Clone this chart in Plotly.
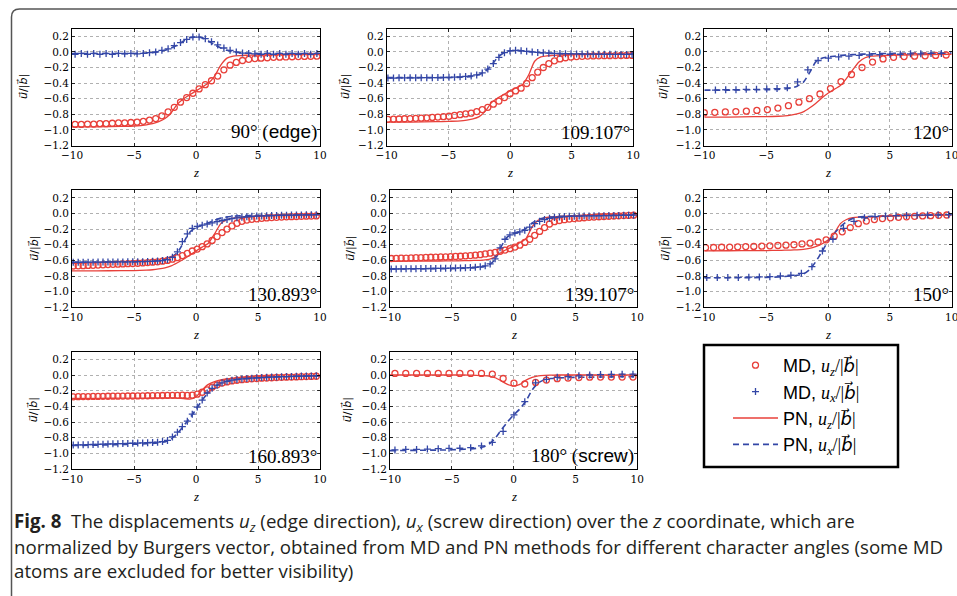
import numpy as np
import plotly.graph_objects as go

# ---------------------------------------------------------------- data
ANGLE_LABELS = ["90° (edge)", "109.107°", "120°", "130.893°",
                "139.107°", "150°", "160.893°", "180° (screw)"]

# z grid of the PN solutions (shared by all panels)
Z_PN = [-10, -8, -6, -5, -4, -3.5, -3, -2.5, -2, -1.5, -1, -0.5, 0, 0.5, 1,
        1.5, 2, 2.5, 3, 3.5, 4, 5, 6, 8, 10]

PN_UZ_090 = [-0.96, -0.96, -0.955, -0.95, -0.935, -0.92, -0.895, -0.855, -0.78, -0.67, -0.6, -0.55, -0.5,
             -0.45, -0.4, -0.31, -0.17, -0.08, -0.055, -0.047, -0.043, -0.04, -0.038, -0.035, -0.035]
PN_UX_090 = [-0.02, -0.02, -0.02, -0.02, -0.015, -0.01, 0.0, 0.02, 0.05, 0.09, 0.14, 0.18, 0.19,
             0.18, 0.14, 0.09, 0.05, 0.02, 0.0, -0.01, -0.015, -0.02, -0.02, -0.02, -0.02]
PN_UZ_109 = [-0.9, -0.9, -0.895, -0.89, -0.885, -0.875, -0.86, -0.83, -0.76, -0.65, -0.59, -0.545, -0.5,
             -0.46, -0.42, -0.3, -0.12, -0.065, -0.05, -0.045, -0.04, -0.035, -0.035, -0.03, -0.03]
PN_UX_109 = [-0.33, -0.33, -0.33, -0.33, -0.325, -0.32, -0.31, -0.29, -0.25, -0.17, -0.07, -0.01, 0.015,
             0.02, 0.015, 0.005, -0.005, -0.01, -0.015, -0.02, -0.02, -0.025, -0.025, -0.025, -0.025]
PN_UZ_120 = [-0.835, -0.835, -0.83, -0.83, -0.825, -0.82, -0.81, -0.795, -0.77, -0.72, -0.66, -0.59, -0.53,
             -0.48, -0.43, -0.34, -0.23, -0.13, -0.075, -0.055, -0.05, -0.045, -0.04, -0.035, -0.03]
PN_UX_120 = [-0.49, -0.49, -0.485, -0.485, -0.48, -0.475, -0.465, -0.44, -0.39, -0.27, -0.13, -0.08, -0.065,
             -0.055, -0.045, -0.04, -0.035, -0.03, -0.028, -0.025, -0.022, -0.02, -0.018, -0.015, -0.015]
PN_UZ_131 = [-0.735, -0.735, -0.73, -0.73, -0.725, -0.72, -0.71, -0.695, -0.67, -0.63, -0.585, -0.535, -0.48,
             -0.43, -0.38, -0.26, -0.13, -0.08, -0.06, -0.05, -0.042, -0.035, -0.03, -0.025, -0.02]
PN_UX_131 = [-0.625, -0.625, -0.62, -0.62, -0.615, -0.61, -0.6, -0.585, -0.56, -0.5, -0.37, -0.24, -0.18,
             -0.15, -0.12, -0.085, -0.06, -0.045, -0.035, -0.03, -0.028, -0.025, -0.02, -0.015, -0.01]
PN_UZ_139 = [-0.612, -0.61, -0.608, -0.606, -0.604, -0.602, -0.6, -0.596, -0.588, -0.555, -0.5, -0.455, -0.417,
             -0.375, -0.32, -0.17, -0.085, -0.055, -0.045, -0.04, -0.035, -0.03, -0.025, -0.02, -0.015]
PN_UX_139 = [-0.71, -0.71, -0.705, -0.705, -0.7, -0.697, -0.692, -0.682, -0.66, -0.59, -0.42, -0.3, -0.26,
             -0.235, -0.19, -0.12, -0.075, -0.055, -0.045, -0.04, -0.035, -0.03, -0.025, -0.02, -0.015]
PN_UZ_150 = [-0.478, -0.477, -0.475, -0.474, -0.472, -0.47, -0.468, -0.465, -0.46, -0.448, -0.425, -0.39, -0.34,
             -0.255, -0.13, -0.077, -0.055, -0.048, -0.045, -0.042, -0.04, -0.035, -0.03, -0.025, -0.02]
PN_UX_150 = [-0.822, -0.822, -0.82, -0.818, -0.812, -0.806, -0.798, -0.79, -0.775, -0.72, -0.62, -0.49, -0.36,
             -0.255, -0.17, -0.105, -0.065, -0.045, -0.04, -0.037, -0.034, -0.03, -0.025, -0.02, -0.015]
PN_UZ_161 = [-0.3, -0.298, -0.296, -0.295, -0.294, -0.293, -0.292, -0.291, -0.292, -0.295, -0.3, -0.308, -0.28,
             -0.19, -0.12, -0.085, -0.062, -0.05, -0.042, -0.036, -0.032, -0.025, -0.02, -0.015, -0.01]
PN_UX_161 = [-0.9, -0.895, -0.888, -0.884, -0.878, -0.873, -0.865, -0.852, -0.815, -0.745, -0.65, -0.55, -0.44,
             -0.32, -0.22, -0.15, -0.105, -0.08, -0.064, -0.055, -0.048, -0.035, -0.028, -0.018, -0.01]
PN_UZ_180 = [0.0, 0.0, 0.0, 0.0, 0.0, -0.002, -0.004, -0.008, -0.015, -0.035, -0.075, -0.12, -0.14,
             -0.12, -0.065, -0.03, -0.012, -0.005, -0.002, 0.0, 0.0, 0.0, 0.0, 0.0, 0.0]
PN_UX_180 = [-0.966, -0.962, -0.958, -0.955, -0.948, -0.943, -0.936, -0.92, -0.885, -0.81, -0.7, -0.6, -0.51,
             -0.434, -0.33, -0.19, -0.1, -0.06, -0.045, -0.04, -0.035, -0.03, -0.028, -0.024, -0.02]

# MD atoms: first z position and spacing of the (regularly spaced) atoms per panel
MD_UZ_START = [-9.75, -9.9, -10.0, -9.9, -9.9, -9.9, -9.9, -9.6]
MD_UZ_STEP = [0.5, 0.45, 0.85, 0.4, 0.4, 0.65, 0.4, 0.875]
MD_UX_START = [-9.75, -9.9, -9.1, -9.9, -9.9, -9.8, -9.9, -9.6]
MD_UX_STEP = [0.5, 0.45, 0.83, 0.4, 0.4, 0.85, 0.4, 0.875]

MD_UZ_090 = [-0.93, -0.93, -0.925, -0.925, -0.92, -0.92, -0.915, -0.91, -0.91, -0.905, -0.9, -0.89, -0.875,
             -0.855, -0.82, -0.77, -0.71, -0.645, -0.585, -0.53, -0.475, -0.42, -0.37, -0.31, -0.23, -0.17,
             -0.135, -0.11, -0.095, -0.085, -0.08, -0.075, -0.07, -0.068, -0.065, -0.062, -0.06, -0.058,
             -0.056, -0.055]
MD_UX_090 = [-0.03, -0.02, -0.03, -0.02, -0.03, -0.02, -0.03, -0.02, -0.025, -0.02, -0.025, -0.02, -0.01,
             0.0, 0.02, 0.04, 0.08, 0.12, 0.16, 0.19, 0.19, 0.17, 0.13, 0.09, 0.05, 0.02, 0.0, -0.015,
             -0.02, -0.025, -0.03, -0.02, -0.03, -0.02, -0.03, -0.02, -0.03, -0.02, -0.03, -0.02]
MD_UZ_109 = [-0.865, -0.862, -0.86, -0.857, -0.855, -0.852, -0.85, -0.845, -0.84, -0.835, -0.83, -0.825,
             -0.815, -0.805, -0.795, -0.785, -0.765, -0.74, -0.71, -0.67, -0.63, -0.585, -0.535, -0.5, -0.465,
             -0.405, -0.33, -0.26, -0.2, -0.15, -0.115, -0.09, -0.075, -0.066, -0.06, -0.057, -0.054,
             -0.052, -0.05, -0.049, -0.048, -0.047, -0.046, -0.045, -0.045]
MD_UX_109 = [-0.335, -0.335, -0.333, -0.333, -0.332, -0.332, -0.331, -0.33, -0.33, -0.329, -0.328, -0.326,
             -0.324, -0.32, -0.315, -0.308, -0.295, -0.27, -0.22, -0.15, -0.07, -0.01, 0.012, 0.02, 0.015,
             0.008, 0.0, -0.007, -0.012, -0.016, -0.019, -0.021, -0.023, -0.025, -0.026, -0.027, -0.028,
             -0.029, -0.03, -0.03, -0.031, -0.031, -0.032, -0.032, -0.033]
MD_UZ_120 = [-0.78, -0.775, -0.77, -0.765, -0.76, -0.75, -0.74, -0.72, -0.69, -0.645, -0.6, -0.54, -0.47,
             -0.38, -0.29, -0.2, -0.13, -0.09, -0.07, -0.06, -0.055, -0.05, -0.045, -0.04]
MD_UX_120 = [-0.49, -0.485, -0.485, -0.48, -0.48, -0.475, -0.47, -0.46, -0.385, -0.23, -0.11, -0.08,
             -0.065, -0.055, -0.045, -0.04, -0.035, -0.03, -0.03, -0.025, -0.025, -0.02, -0.02]
MD_UZ_131 = [-0.672, -0.67, -0.668, -0.665, -0.663, -0.66, -0.657, -0.654, -0.651, -0.648, -0.645, -0.642,
             -0.64, -0.637, -0.633, -0.628, -0.623, -0.618, -0.61, -0.6, -0.585, -0.565, -0.54, -0.51, -0.48,
             -0.455, -0.425, -0.39, -0.345, -0.295, -0.245, -0.2, -0.16, -0.125, -0.1, -0.085, -0.075,
             -0.068, -0.062, -0.057, -0.053, -0.049, -0.046, -0.043, -0.041, -0.039, -0.037, -0.035,
             -0.033, -0.032]
MD_UX_131 = [-0.625, -0.624, -0.624, -0.623, -0.623, -0.622, -0.622, -0.621, -0.621, -0.62, -0.62, -0.619,
             -0.618, -0.617, -0.616, -0.614, -0.612, -0.608, -0.602, -0.59, -0.56, -0.49, -0.36, -0.26,
             -0.19, -0.165, -0.15, -0.135, -0.12, -0.105, -0.09, -0.077, -0.065, -0.056, -0.048, -0.042,
             -0.037, -0.033, -0.031, -0.029, -0.027, -0.025, -0.023, -0.022, -0.021, -0.02, -0.019, -0.018,
             -0.017, -0.016]
MD_UZ_139 = [-0.576, -0.574, -0.572, -0.57, -0.568, -0.566, -0.564, -0.562, -0.56, -0.558, -0.556, -0.554,
             -0.552, -0.55, -0.547, -0.543, -0.538, -0.533, -0.527, -0.518, -0.508, -0.497, -0.484, -0.468,
             -0.45, -0.43, -0.405, -0.37, -0.33, -0.28, -0.23, -0.18, -0.135, -0.105, -0.09, -0.08, -0.072,
             -0.065, -0.06, -0.055, -0.05, -0.046, -0.042, -0.039, -0.036, -0.033, -0.03, -0.027, -0.025,
             -0.022]
MD_UX_139 = [-0.71, -0.71, -0.708, -0.708, -0.706, -0.706, -0.705, -0.705, -0.704, -0.703, -0.702, -0.701,
             -0.7, -0.699, -0.697, -0.695, -0.692, -0.688, -0.682, -0.67, -0.645, -0.58, -0.44, -0.33,
             -0.275, -0.25, -0.235, -0.215, -0.175, -0.13, -0.1, -0.078, -0.062, -0.052, -0.045, -0.04,
             -0.037, -0.035, -0.033, -0.032, -0.031, -0.03, -0.029, -0.028, -0.027, -0.026, -0.025, -0.024,
             -0.023, -0.022]
MD_UZ_150 = [-0.438, -0.435, -0.432, -0.43, -0.427, -0.424, -0.421, -0.418, -0.414, -0.41, -0.405, -0.4,
             -0.39, -0.38, -0.365, -0.337, -0.29, -0.235, -0.18, -0.13, -0.097, -0.078, -0.066, -0.056,
             -0.049, -0.043, -0.037, -0.032, -0.028, -0.024, -0.02]
MD_UX_150 = [-0.82, -0.82, -0.82, -0.818, -0.815, -0.812, -0.808, -0.8, -0.79, -0.765, -0.68, -0.48, -0.33,
             -0.19, -0.1, -0.055, -0.04, -0.033, -0.028, -0.025, -0.022, -0.02, -0.018, -0.015]
MD_UZ_161 = [-0.278, -0.277, -0.276, -0.275, -0.274, -0.273, -0.272, -0.271, -0.27, -0.27, -0.269, -0.268,
             -0.268, -0.267, -0.266, -0.265, -0.264, -0.263, -0.262, -0.261, -0.26, -0.259, -0.258, -0.26,
             -0.258, -0.245, -0.22, -0.19, -0.155, -0.125, -0.103, -0.088, -0.076, -0.067, -0.06, -0.054,
             -0.049, -0.045, -0.041, -0.038, -0.035, -0.032, -0.03, -0.028, -0.026, -0.024, -0.022, -0.02,
             -0.018, -0.016]
MD_UX_161 = [-0.895, -0.893, -0.891, -0.889, -0.887, -0.885, -0.883, -0.881, -0.879, -0.877, -0.875, -0.873,
             -0.871, -0.869, -0.867, -0.865, -0.862, -0.858, -0.85, -0.835, -0.79, -0.73, -0.66, -0.59,
             -0.5, -0.41, -0.32, -0.23, -0.17, -0.13, -0.1, -0.08, -0.066, -0.057, -0.05, -0.045, -0.04,
             -0.036, -0.033, -0.03, -0.027, -0.025, -0.022, -0.02, -0.018, -0.016, -0.014, -0.013, -0.012,
             -0.011]
MD_UZ_180 = [0.02, 0.02, 0.02, 0.02, 0.02, 0.02, 0.02, 0.02, 0.02, 0.01, -0.045, -0.105, -0.115, -0.095,
             -0.065, -0.047, -0.038, -0.032, -0.028, -0.026, -0.026, -0.026, -0.026]
MD_UX_180 = [-0.957, -0.95, -0.95, -0.945, -0.94, -0.936, -0.935, -0.928, -0.906, -0.86, -0.72, -0.51,
             -0.34, -0.1, -0.055, -0.03, -0.02, -0.01, 0.0, 0.005, 0.008, 0.01, 0.01]

PN_UZ = [PN_UZ_090, PN_UZ_109, PN_UZ_120, PN_UZ_131, PN_UZ_139, PN_UZ_150, PN_UZ_161, PN_UZ_180]
PN_UX = [PN_UX_090, PN_UX_109, PN_UX_120, PN_UX_131, PN_UX_139, PN_UX_150, PN_UX_161, PN_UX_180]
MD_UZ = [MD_UZ_090, MD_UZ_109, MD_UZ_120, MD_UZ_131, MD_UZ_139, MD_UZ_150, MD_UZ_161, MD_UZ_180]
MD_UX = [MD_UX_090, MD_UX_109, MD_UX_120, MD_UX_131, MD_UX_139, MD_UX_150, MD_UX_161, MD_UX_180]

X_TICKS = [-10, -5, 0, 5, 10]
Y_TICKS = [-1.2, -1.0, -0.8, -0.6, -0.4, -0.2, 0.0, 0.2]

LEGEND_NAMES = ["MD, ", "MD, ", "PN, ", "PN, "]
CAPTION = [
    "<b>Fig. 8</b>  The displacements <i>u<sub>z</sub></i> (edge direction), <i>u<sub>x</sub></i> "
    "(screw direction) over the <i>z</i> coordinate, which are",
    "normalized by Burgers vector, obtained from MD and PN methods for different character angles (some MD",
    "atoms are excluded for better visibility)",
]

# ---------------------------------------------------------------- layout (pixels)
W, H = 957, 596
# plot-area boxes: x0, x1, y0(top), y1(bottom)
BOXES = [
    (72, 320, 28.5, 145.5), (386.7, 633.3, 28.5, 145.5), (704.3, 951.7, 28.5, 145.5),
    (72, 320, 190, 307.3), (390, 637.3, 190, 307.3), (704.3, 951.7, 190, 307.3),
    (72, 320, 351.5, 469), (390, 637.3, 351.5, 469),
]
YTITLE_X = [23, 345, 663, 34, 350, 665, 33, 347]

RED = "#e8403a"
BLUE = "#3346a6"
SERIF = "Liberation Serif"
VEC = "DejaVu Sans"
TICKFONT = dict(family="DejaVu Serif", size=10.5, color="black")


def fmt(v):
    s = f"{abs(v):.1f}"
    return ("\u2212" + s) if v < 0 else s


def px(x):
    return x / W


def py(y):
    return 1 - y / H


fig = go.Figure()
annotations = []
lay = {}

u_lbl = (f'<span style="font-family:{SERIF}"><i>u</i><sub><i>%s</i></sub>/|</span>'
         f'<span style="font-family:{VEC}"><i>b\u20d7</i></span>'
         f'<span style="font-family:{SERIF}">|</span>')

for i in range(8):
    k = "" if i == 0 else str(i + 1)
    xa, ya = "x" + k, "y" + k
    x0, x1, y0, y1 = BOXES[i]
    show = i == 0
    md_uz_z = MD_UZ_START[i] + MD_UZ_STEP[i] * np.arange(len(MD_UZ[i]))
    md_ux_z = MD_UX_START[i] + MD_UX_STEP[i] * np.arange(len(MD_UX[i]))

    fig.add_trace(go.Scatter(
        x=Z_PN, y=PN_UZ[i], mode="lines", xaxis=xa, yaxis=ya,
        line=dict(color=RED, width=1.3, shape="spline", smoothing=0.6),
        name=LEGEND_NAMES[2] + u_lbl % "z", showlegend=show, legendgroup="c", legendrank=3))
    fig.add_trace(go.Scatter(
        x=Z_PN, y=PN_UX[i], mode="lines", xaxis=xa, yaxis=ya,
        line=dict(color=BLUE, width=1.6, dash="6px,4px", shape="spline", smoothing=0.6),
        name=LEGEND_NAMES[3] + u_lbl % "x", showlegend=show, legendgroup="d", legendrank=4))
    fig.add_trace(go.Scatter(
        x=md_uz_z, y=MD_UZ[i], mode="markers", xaxis=xa, yaxis=ya,
        marker=dict(symbol="circle-open", size=6, color=RED, line=dict(width=1.3, color=RED)),
        name=LEGEND_NAMES[0] + u_lbl % "z", showlegend=show, legendgroup="a", legendrank=1))
    fig.add_trace(go.Scatter(
        x=md_ux_z, y=MD_UX[i], mode="markers", xaxis=xa, yaxis=ya,
        marker=dict(symbol="cross-thin-open", size=5, color=BLUE, line=dict(width=1.3, color=BLUE)),
        name=LEGEND_NAMES[1] + u_lbl % "x", showlegend=show, legendgroup="b", legendrank=2))

    axcommon = dict(showline=True, mirror="ticks", linecolor="black", linewidth=1,
                    ticks="inside", ticklen=3, tickcolor="black", tickwidth=0.8,
                    showgrid=True, gridcolor="#b0b0b0", griddash="dot", gridwidth=1,
                    zeroline=False, tickfont=TICKFONT, fixedrange=True, automargin=False)
    lay["xaxis" + k] = dict(axcommon, domain=[px(x0), px(x1)], range=[-10, 10],
                            tickvals=X_TICKS, ticktext=[fmt(v).replace(".0", "") for v in X_TICKS],
                            anchor=ya, ticklabeloverflow="allow")
    lay["yaxis" + k] = dict(axcommon, domain=[py(y1), py(y0)], range=[-1.2, 0.3],
                            tickvals=Y_TICKS, ticktext=[fmt(v) for v in Y_TICKS], anchor=xa)

    # angle label
    lbl = ANGLE_LABELS[i].replace("edge", '<span style="font-family:Liberation Sans">edge</span>') \
                         .replace("screw", '<span style="font-family:Liberation Sans">screw</span>')
    annotations.append(dict(text=lbl, xref="paper", yref="paper", x=px(x1 - 1), y=py(y1 - 0.5),
                            xanchor="right", yanchor="bottom", showarrow=False,
                            font=dict(family=SERIF, size=19, color="black")))
    # axis titles
    annotations.append(dict(text="<i>z</i>", xref="paper", yref="paper", x=px((x0 + x1) / 2),
                            y=py(y1 + 27), xanchor="center", yanchor="middle", showarrow=False,
                            font=dict(family=SERIF, size=13, color="black")))
    annotations.append(dict(text="<i>u\u20d7</i>/|<i>b\u20d7</i>|", xref="paper", yref="paper",
                            x=px(YTITLE_X[i]), y=py((y0 + y1) / 2), xanchor="center",
                            yanchor="middle", textangle=-90, showarrow=False,
                            font=dict(family=VEC, size=11, color="black")))

# caption
for j, line in enumerate(CAPTION):
    annotations.append(dict(text=line, xref="paper", yref="paper", x=px(12), y=py(522 + 24 * j),
                            xanchor="left", yanchor="middle", showarrow=False, align="left",
                            font=dict(family="Open Sans", size=18.7, color="#231f20")))

shapes = [
    # legend frame
    dict(type="rect", xref="paper", yref="paper", x0=px(704), x1=px(898), y0=py(467), y1=py(345),
         line=dict(color="black", width=2.5), fillcolor="rgba(0,0,0,0)"),
    # outer figure frame (rounded top-left corner)
    dict(type="path", xref="paper", yref="paper",
         path=f"M {px(11.5)},{py(600)} L {px(11.5)},{py(17)} Q {px(11.5)},{py(9)} {px(19.5)},{py(9)} "
              f"L {px(960)},{py(9)}",
         line=dict(color="#555555", width=1.5)),
]

fig.update_layout(
    **lay,
    width=W, height=H, margin=dict(l=0, r=0, t=0, b=0, autoexpand=False),
    paper_bgcolor="white", plot_bgcolor="white",
    annotations=annotations, shapes=shapes,
    showlegend=True,
    legend=dict(x=px(728), y=py(347), xanchor="left", yanchor="top",
                bgcolor="rgba(0,0,0,0)", borderwidth=0, tracegroupgap=0,
                font=dict(family="Liberation Sans", size=18, color="black"),
                itemwidth=45, itemsizing="trace", traceorder="grouped"),
)

fig.write_html("out.html", config={"displayModeBar": False, "staticPlot": True},
               post_script="document.body.style.margin='0';document.body.style.padding='0';"
                           "document.body.style.overflow='hidden';")
